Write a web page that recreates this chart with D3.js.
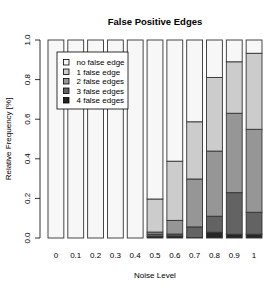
<!DOCTYPE html>
<html>
<head>
<meta charset="utf-8">
<script src="https://cdn.jsdelivr.net/npm/d3@7"></script>
<style>
  body { margin: 0; background: #fff; }
  text { font-family: "Liberation Sans", Arial, sans-serif; fill: #000; }
</style>
</head>
<body>
<div id="chart"></div>
<script>
// noise levels on the x axis
let levels = ["0", "0.1", "0.2", "0.3", "0.4", "0.5", "0.6", "0.7", "0.8", "0.9", "1"];
let seriesNames = ["no false edge", "1 false edge", "2 false edges", "3 false edges", "4 false edges"];
let seriesColors = ["#f7f7f7", "#cccccc", "#969696", "#636363", "#252525"];

// relative frequency per series
let noFalse   = [1, 1, 1, 1, 1, 0.803, 0.612, 0.413, 0.189, 0.110, 0.067];
let oneFalse  = [0, 0, 0, 0, 0, 0.167, 0.299, 0.289, 0.372, 0.260, 0.384];
let twoFalse  = [0, 0, 0, 0, 0, 0.011, 0.069, 0.242, 0.329, 0.401, 0.419];
let threeFalse= [0, 0, 0, 0, 0, 0.011, 0.010, 0.054, 0.081, 0.210, 0.111];
let fourFalse = [0, 0, 0, 0, 0, 0.008, 0.010, 0.002, 0.029, 0.019, 0.019];
let yTicks = [0, 0.2, 0.4, 0.6, 0.8, 1.0];

let width = 266, height = 290;
let plot = {left: 40, right: 262, top: 40, bottom: 238};

let svg = d3.select("#chart").append("svg")
    .attr("width", width)
    .attr("height", height);

let x = d3.scaleBand()
    .domain(levels)
    .range([48, 262])
    .paddingInner(0.2)
    .paddingOuter(0);

let y = d3.scaleLinear()
    .domain([0, 1])
    .range([plot.bottom, plot.top]);

// stack series: bottom is 4 false edges
let rows = levels.map(function(l, i) {
    return {level: l, s0: noFalse[i], s1: oneFalse[i], s2: twoFalse[i], s3: threeFalse[i], s4: fourFalse[i]};
});
let stack = d3.stack().keys(["s4", "s3", "s2", "s1", "s0"]);
let layers = stack(rows);
let colorOf = {s0: seriesColors[0], s1: seriesColors[1], s2: seriesColors[2], s3: seriesColors[3], s4: seriesColors[4]};

let g = svg.selectAll("g.layer")
    .data(layers)
    .enter().append("g")
    .attr("class", "layer")
    .attr("fill", function(d) { return colorOf[d.key]; });

g.selectAll("rect")
    .data(function(d) { return d.filter(function(p) { return p[1] - p[0] > 0; }); })
    .enter().append("rect")
    .attr("x", function(d) { return x(d.data.level); })
    .attr("width", x.bandwidth())
    .attr("y", function(d) { return y(d[1]); })
    .attr("height", function(d) { return y(d[0]) - y(d[1]); })
    .attr("stroke", "#333")
    .attr("stroke-width", 0.9);

// y axis
let yAxis = svg.append("g")
    .attr("transform", "translate(" + plot.left + ",0)");
yAxis.append("line")
    .attr("x1", 0).attr("x2", 0)
    .attr("y1", y(0)).attr("y2", y(1))
    .attr("stroke", "#000").attr("stroke-width", 0.8);
yAxis.selectAll("line.tick")
    .data(yTicks)
    .enter().append("line")
    .attr("class", "tick")
    .attr("x1", -5).attr("x2", 0)
    .attr("y1", function(d) { return y(d); })
    .attr("y2", function(d) { return y(d); })
    .attr("stroke", "#000").attr("stroke-width", 0.8);
yAxis.selectAll("text")
    .data(yTicks)
    .enter().append("text")
    .attr("transform", function(d) { return "translate(-10," + y(d) + ") rotate(-90)"; })
    .attr("text-anchor", "middle")
    .attr("font-size", "8px")
    .text(function(d) { return d3.format(".1f")(d); });

// x labels
svg.selectAll("text.xlab")
    .data(levels)
    .enter().append("text")
    .attr("class", "xlab")
    .attr("x", function(d) { return x(d) + x.bandwidth() / 2; })
    .attr("y", 257.5)
    .attr("text-anchor", "middle")
    .attr("font-size", "8px")
    .text(function(d) { return d; });

// titles
svg.append("text")
    .attr("x", 155).attr("y", 24.5)
    .attr("text-anchor", "middle")
    .attr("font-size", "9.5px")
    .attr("font-weight", "bold")
    .text("False Positive Edges");
svg.append("text")
    .attr("x", 155).attr("y", 278)
    .attr("text-anchor", "middle")
    .attr("font-size", "8px")
    .text("Noise Level");
svg.append("text")
    .attr("transform", "translate(11,139) rotate(-90)")
    .attr("text-anchor", "middle")
    .attr("font-size", "8px")
    .text("Relative Frequency [%]");

// legend
let lg = {x: 57, y: 52, w: 71, h: 57, row: 9.5};
let legend = svg.append("g");
legend.append("rect")
    .attr("x", lg.x).attr("y", lg.y)
    .attr("width", lg.w).attr("height", lg.h)
    .attr("fill", "#fff")
    .attr("stroke", "#000").attr("stroke-width", 0.8);
let items = legend.selectAll("g.item")
    .data(seriesNames)
    .enter().append("g")
    .attr("class", "item")
    .attr("transform", function(d, i) { return "translate(0," + (62.3 + i * lg.row) + ")"; });
items.append("rect")
    .attr("x", 63.5).attr("y", -2.8)
    .attr("width", 5.5).attr("height", 5.5)
    .attr("fill", function(d, i) { return seriesColors[i]; })
    .attr("stroke", "#000").attr("stroke-width", 0.8);
items.append("text")
    .attr("x", 76.5).attr("y", 2.9)
    .attr("font-size", "8px")
    .text(function(d) { return d; });
</script>
</body>
</html>
